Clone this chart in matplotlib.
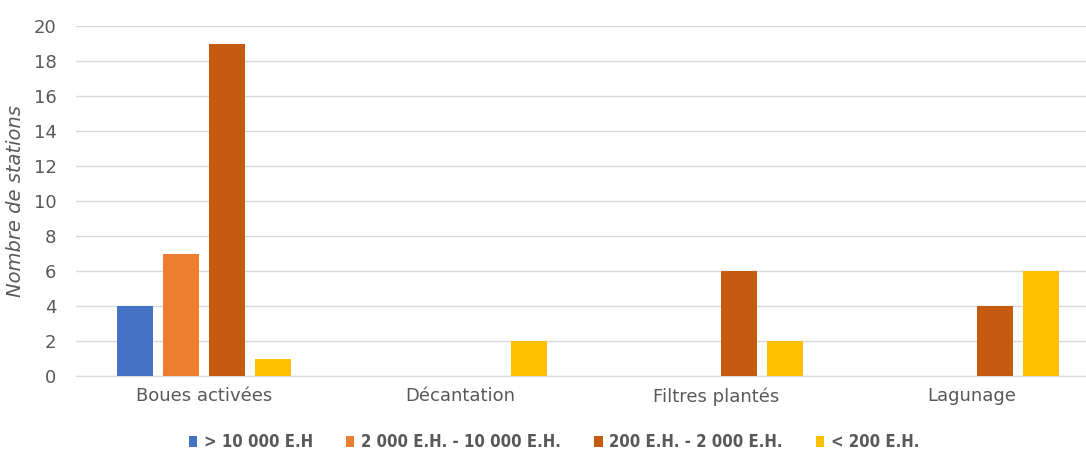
import matplotlib.pyplot as plt
import numpy as np

categories = ["Boues activées", "Décantation", "Filtres plantés", "Lagunage"]
series_names = ["> 10 000 E.H", "2 000 E.H. - 10 000 E.H.", "200 E.H. - 2 000 E.H.", "< 200 E.H."]
gt_10000 = [4, 0, 0, 0]
eh_2000_10000 = [7, 0, 0, 0]
eh_200_2000 = [19, 0, 6, 4]
lt_200 = [1, 2, 2, 6]
colors = ["#4472C4", "#ED7D31", "#C55A11", "#FFC000"]

plt.rcParams['font.family'] = ['DejaVu Sans']

fig = plt.figure(figsize=(10.86, 4.55), dpi=100)
# plot area runs off the right edge of the figure, like the reference crop
ax = fig.add_axes([76 / 1086, 1 - 376 / 455, 1024 / 1086, 350 / 455])

x = np.arange(len(categories))
bw = 0.14
step = 0.18
all_series = [gt_10000, eh_2000_10000, eh_200_2000, lt_200]
for i, (vals, name, c) in enumerate(zip(all_series, series_names, colors)):
    ax.bar(x + (i - 1.5) * step, vals, width=bw, color=c, label=name, zorder=3)

ax.set_xlim(-0.5, 3.5)
ax.set_ylim(0, 20)
ax.set_yticks(range(0, 21, 2))
ax.set_xticks(x)
ax.set_xticklabels(categories, fontsize=13.5)
ax.grid(axis='y', color='#d9d9d9', linewidth=1, zorder=0)
for s in ['top', 'right', 'left']:
    ax.spines[s].set_visible(False)
ax.spines['bottom'].set_color('#d9d9d9')
ax.tick_params(axis='both', length=0, colors='#595959', labelsize=13)
ax.tick_params(axis='y', pad=14)
ax.tick_params(axis='x', pad=8)
ax.set_ylabel("Nombre de stations", fontsize=14, style='italic', color='#595959', labelpad=6)

fig.legend(loc='lower center', bbox_to_anchor=(554 / 1086, -0.025), ncol=4, frameon=False,
           handlelength=0.5, handleheight=0.6, handletextpad=0.4, columnspacing=2.0,
           prop={'family': 'DejaVu Sans', 'stretch': 'condensed', 'size': 12, 'weight': 'bold'},
           labelcolor='#595959')

fig.savefig("out.png", dpi=100)
